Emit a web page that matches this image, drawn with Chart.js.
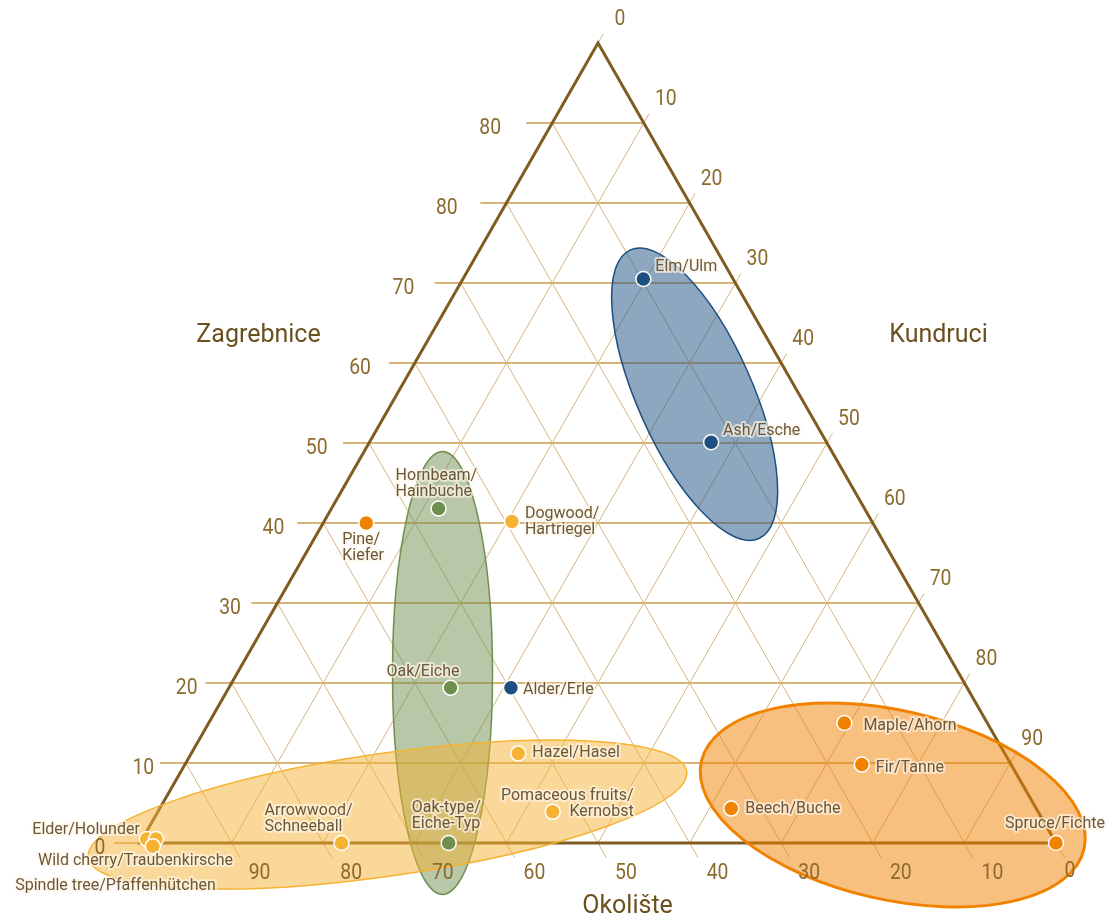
<!DOCTYPE html>
<html><head><meta charset="utf-8">
<script src="https://cdn.jsdelivr.net/npm/chart.js@4.4.1/dist/chart.umd.min.js"></script>
<style>html,body{margin:0;padding:0;background:#fff;}#wrap{width:1107px;height:916px;position:relative;}</style>
</head><body><div id="wrap"><canvas id="c"></canvas></div>
<script>
// ---- data (ternary: Zagrebnice + Kundruci + Okolište = 100) ----
const treeNames = ['Elm/Ulm','Ash/Esche','Alder/Erle','Hornbeam/\nHainbuche','Oak/Eiche','Oak-type/\nEiche-Typ',
  'Dogwood/\nHartriegel','Hazel/Hasel','Pomaceous fruits/\nKernobst','Arrowwood/\nSchneeball','Elder/Holunder',
  'Wild cherry/Traubenkirsche','Spindle tree/Pfaffenhütchen','Pine/\nKiefer','Maple/Ahorn','Fir/Tanne','Beech/Buche','Spruce/Fichte'];
const zagrebnice = [70.5, 50.1, 19.4, 41.8, 19.4, 0, 40.2, 11.2, 3.9, 0, 0.5, 0.5, -0.4, 40.0, 15.0, 9.8, 4.3, 0];
const kundruci   = [19.7, 37.3, 30.8, 11.7, 24.2, 33.7, 20.5, 35.7, 43.1, 22.0, 0.5, 1.5, 1.6, 4.7, 69.4, 73.9, 62.4, 100];
const okoliste   = [9.8, 12.6, 49.8, 46.5, 56.4, 66.3, 39.3, 53.1, 53.0, 78.0, 99.0, 98.0, 98.8, 55.3, 15.6, 16.3, 33.3, 0];
const treeGroup  = ['wet','wet','wet','oak','oak','oak','shrub','shrub','shrub','shrub','shrub','shrub','shrub',
  'conifer','conifer','conifer','conifer','conifer'];
const zagTickLabels  = ['0','10','20','30','40','50','60','70','80','80'];
const kundTickLabels = ['0','10','20','30','40','50','60','70','80','90'];
const okoTickLabels  = ['0','10','20','30','40','50','60','70','80','90'];
const axisTitles = ['Zagrebnice','Kundruci','Okolište'];

// ---- styles / layout (not data) ----
const groupColor = {wet:'#1d4f82', oak:'#6f8f4f', shrub:'#f6b233', conifer:'#f08200'};
const groupEllipse = [ // center in ternary (Z,K), radii in side-percent units, rotation deg
  {g:'wet',   Z:56.1, K:32.5, rx:6.28, ry:17.25, rot:-24, lw:1.5},
  {g:'oak',   Z:21.25,K:22.4, rx:5.46, ry:24.18, rot:0,   lw:1.5},
  {g:'shrub', Z:3.56, K:25.24,rx:33.0, ry:6.69,  rot:-8.2,lw:1.5},
  {g:'conifer',Z:4.75,K:79.8, rx:21.43,ry:10.32, rot:12.9,lw:3}
];
const labelLayout = [ // dx, dy (first line middle), align
  [12,-12,'left'],[12,-11,'left'],[12,2,'left'],[-43,-33,'left'],[9,-16,'right'],[-37,-35,'left'],
  [13,-7,'left'],[14,0,'left'],[81,-16,'right'],[-77,-32,'left'],[-7,-9,'right'],
  [77,22,'right'],[63,40,'right'],[-24,17,'left'],[19,3,'left'],[14,3,'left'],[14,0,'left'],[-1,-19,'center']
];

function tern(chart, Z, K){
  return [chart.scales.x.getPixelForValue(K + Z/2), chart.scales.y.getPixelForValue(Z)];
}
function line(ctx,a,b){ctx.beginPath();ctx.moveTo(a[0],a[1]);ctx.lineTo(b[0],b[1]);ctx.stroke();}
function ext(a,b,len){const dx=b[0]-a[0],dy=b[1]-a[1],l=Math.hypot(dx,dy)||1;return [b[0]+dx/l*len,b[1]+dy/l*len];}
function txt(ctx,s,x,y,align,sx){ctx.save();ctx.translate(x,y);ctx.scale(sx||1,1);ctx.textAlign=align||'center';ctx.fillText(s,0,0);ctx.restore();}

const ternaryPlugin = {
  id:'ternary',
  beforeDatasetsDraw(chart){
    const ctx = chart.ctx;
    ctx.save();
    // diagonal grid
    ctx.lineWidth = 1; ctx.strokeStyle = '#d6b582';
    for(let c=0;c<=90;c+=10){
      const a = tern(chart,0,c), b = tern(chart,100-c,c);
      if(c>0) line(ctx,a,b);
      line(ctx,b,ext(a,b,11));
      const a2 = tern(chart,100-c,0), b2 = tern(chart,0,100-c);
      if(c>0) line(ctx,a2,b2);
      line(ctx,b2,ext(a2,b2,17));
    }
    // horizontal Zagrebnice lines
    ctx.lineWidth = 2; ctx.strokeStyle = '#d8b477';
    for(let c=0;c<=100;c+=10){
      const a = tern(chart,c,0), b = tern(chart,c,100-c);
      const e = ext(b,a,26);
      line(ctx,e,c===0?a:b);
    }
    // edges
    const A = tern(chart,100,0), L = tern(chart,0,0), R = tern(chart,0,100);
    ctx.lineWidth = 3; ctx.strokeStyle = '#7f5d20'; ctx.lineJoin='miter';
    ctx.beginPath(); ctx.moveTo(L[0],L[1]); ctx.lineTo(A[0],A[1]); ctx.lineTo(R[0],R[1]); ctx.closePath(); ctx.stroke();
    // ellipses
    const ppu = chart.scales.x.getPixelForValue(1) - chart.scales.x.getPixelForValue(0);
    groupEllipse.forEach(e=>{
      const c = tern(chart,e.Z,e.K);
      ctx.beginPath();
      ctx.ellipse(c[0],c[1],e.rx*ppu,e.ry*ppu,e.rot*Math.PI/180,0,Math.PI*2);
      ctx.fillStyle = groupColor[e.g]; ctx.globalAlpha = 0.5; ctx.fill();
      ctx.globalAlpha = 1; ctx.lineWidth = e.lw; ctx.strokeStyle = groupColor[e.g]; ctx.stroke();
    });
    // tick labels
    ctx.fillStyle = '#8c6b2e'; ctx.font = '22px Roboto'; ctx.textBaseline = 'middle';
    zagTickLabels.forEach((s,i)=>{
      const c=i*10, p = tern(chart,c,0);
      txt(ctx,s,p[0]-(40+0.245*c),p[1]+5,'center',0.88);
    });
    kundTickLabels.forEach((s,i)=>{
      const c=i*10, p = tern(chart,100-c,c);
      txt(ctx,s,p[0]+22,p[1]-24,'center',0.88);
    });
    okoTickLabels.forEach((s,i)=>{
      const c=i*10, p = tern(chart,0,100-c);
      txt(ctx,s,p[0]+(c===0?14:28),p[1]+(c===0?28:30),'center',0.88);
    });
    // axis titles
    ctx.fillStyle = '#6b501f'; ctx.font = '25px Roboto'; ctx.textBaseline='alphabetic';
    txt(ctx,axisTitles[0],258.5,342,'center');
    txt(ctx,axisTitles[1],938.5,342,'center');
    txt(ctx,axisTitles[2],627.5,913,'center');
    ctx.restore();
  },
  afterDatasetsDraw(chart){
    const ctx = chart.ctx, meta = chart.getDatasetMeta(0);
    ctx.save();
    ctx.font = '16px Roboto'; ctx.textBaseline='middle'; ctx.lineJoin='round';
    treeNames.forEach((n,i)=>{
      const el = meta.data[i], lay = labelLayout[i];
      n.split('\n').forEach((ln,j)=>{
        const x = el.x + lay[0], y = el.y + lay[1] + j*16;
        ctx.textAlign = lay[2];
        ctx.lineWidth = 4; ctx.strokeStyle = 'rgba(255,246,232,0.65)'; ctx.strokeText(ln,x,y);
        ctx.fillStyle = '#6a583a'; ctx.fillText(ln,x,y);
      });
    });
    ctx.restore();
  }
};

const points = treeNames.map((n,i)=>({x: kundruci[i] + zagrebnice[i]/2, y: zagrebnice[i]}));
new Chart(document.getElementById('c'), {
  type:'scatter',
  data:{datasets:[{data:points, pointRadius:7.5, pointHoverRadius:7.5,
    pointBackgroundColor: treeGroup.map(g=>groupColor[g]), pointBorderColor:'#ffffff', pointBorderWidth:1.5}]},
  options:{
    responsive:true, maintainAspectRatio:false, animation:false, events:[],
    layout:{padding:0, autoPadding:false},
    plugins:{legend:{display:false}, tooltip:{enabled:false}},
    scales:{
      x:{type:'linear', display:false, min:-15.284, max:105.568},
      y:{type:'linear', display:false, min:-9.125, max:105.375}
    }
  },
  plugins:[ternaryPlugin]
});
</script></body></html>
